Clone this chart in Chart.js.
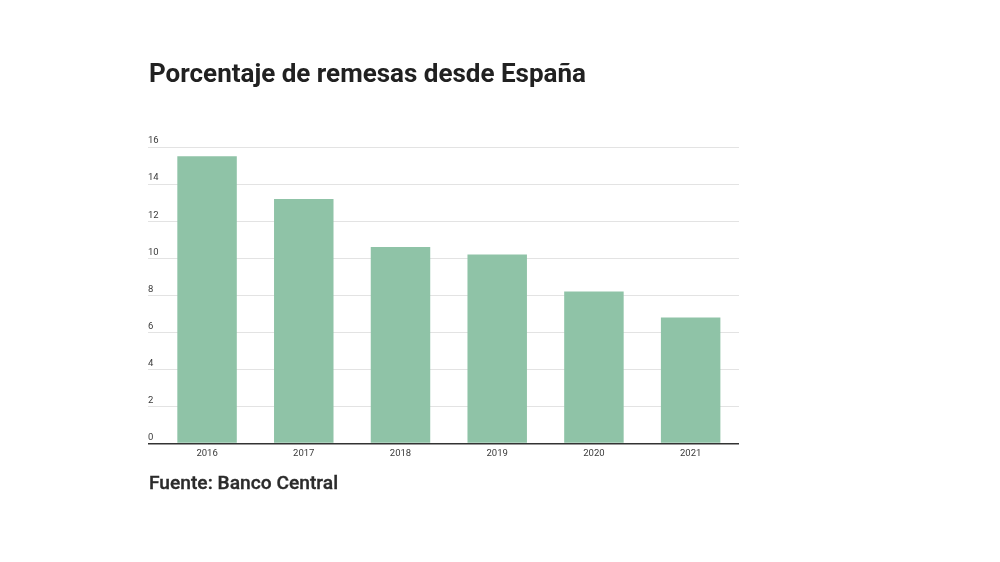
<!DOCTYPE html>
<html>
<head>
<meta charset="utf-8">
<script src="https://cdn.jsdelivr.net/npm/chart.js@4/dist/chart.umd.min.js"></script>
<style>
  html, body { margin: 0; padding: 0; background: #fff; }
  #wrap { position: relative; width: 1000px; height: 562px; font-family: Roboto, sans-serif; }
  #title { position: absolute; left: 149px; top: 58px; font-size: 26px; line-height: 30px; font-weight: 700; color: #212121; margin: 0; white-space: nowrap; }
  #source { position: absolute; left: 149px; top: 471px; font-family: "Roboto Medium", Roboto, sans-serif; font-size: 19.2px; line-height: 23px; font-weight: 500; color: #2b2b2b; white-space: nowrap; -webkit-text-stroke: 0.35px #2b2b2b; }
  #c { position: absolute; left: 0; top: 0; }
</style>
</head>
<body>
<div id="wrap">
  <canvas id="c" width="1000" height="562"></canvas>
  <div id="title">Porcentaje de remesas desde España</div>
  <div id="source">Fuente: Banco Central</div>
</div>
<script>
// datos
var years = ["2016", "2017", "2018", "2019", "2020", "2021"];
var remesas = [15.5, 13.2, 10.6, 10.2, 8.2, 6.8];
var yTicks = [0, 2, 4, 6, 8, 10, 12, 14, 16];

var ctx = document.getElementById("c");

var chart = new Chart(ctx, {
  type: "bar",
  data: {
    labels: years,
    datasets: [{
      label: "Remesas",
      data: remesas,
      backgroundColor: "#8fc3a7",
      borderWidth: 0,
      barPercentage: 0.615,
      categoryPercentage: 1
    }]
  },
  options: {
    responsive: false,
    animation: false,
    layout: { padding: { left: 148, right: 261, top: 147, bottom: 99 } },
    plugins: { legend: { display: false }, tooltip: { enabled: false } },
    scales: {
      x: {
        grid: { display: false, drawTicks: false },
        border: { display: false },
        ticks: { color: "#3a3a3a", font: { family: "Roboto", size: 9.5 }, padding: 4 }
      },
      y: {
        min: 0,
        max: 16,
        afterFit: function(scale) { scale.width = 10.7; },
        afterBuildTicks: function(scale) {
          scale.ticks = yTicks.map(function(v) { return { value: v }; });
        },
        border: { display: false },
        grid: {
          drawTicks: true,
          tickLength: 10.7,
          color: function(c) { return c.tick && c.tick.value === 0 ? "#333" : "#e3e3e3"; },
          lineWidth: function(c) { return c.tick && c.tick.value === 0 ? 1.5 : 1; }
        },
        ticks: {
          color: "#3a3a3a",
          font: { family: "Roboto", size: 9.5 },
          crossAlign: "far",
          padding: 0,
          labelOffset: -6
        }
      }
    }
  }
});
</script>
</body>
</html>
